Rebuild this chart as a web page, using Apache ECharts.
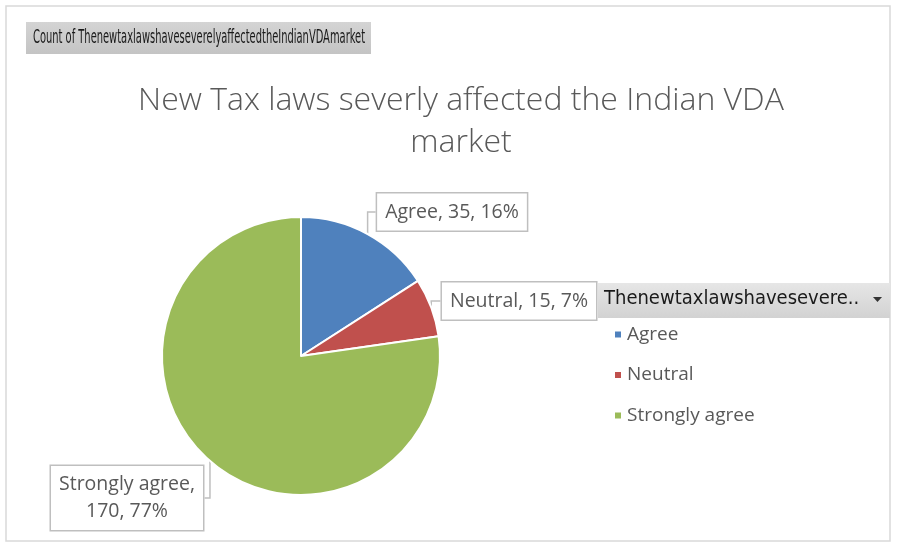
<!DOCTYPE html>
<html>
<head>
<meta charset="utf-8">
<script src="https://cdn.jsdelivr.net/npm/echarts@6/dist/echarts.min.js"></script>
<style>
html,body{margin:0;padding:0;background:#fff;}
#main{width:898px;height:548px;}
</style>
</head>
<body>
<div id="main"></div>
<script>
const categories = ['Agree', 'Neutral', 'Strongly agree'];
const counts = [35, 15, 170];
const colors = ['#4F81BD', '#C0504D', '#9BBB59'];
const chartTitle = 'New Tax laws severly affected the Indian VDA\nmarket';
const fieldHeader = 'Count of Thenewtaxlawshaveseverelyaffectedthe' + 'IndianVDAmarket';
const legendHeader = 'Thenewtaxlawshavesevere..';

const labelPos = {
  'Agree': [452, 212],
  'Neutral': [519, 301],
  'Strongly agree': [127, 498]
};

const chart = echarts.init(document.getElementById('main'));
const font = '"Open Sans", "Noto Sans", sans-serif';

chart.setOption({
  backgroundColor: '#ffffff',
  animation: false,
  color: colors,
  title: {
    text: chartTitle,
    left: 456,
    top: 75,
    textAlign: 'center',
    textStyle: {
      fontFamily: font,
      fontWeight: 300,
      fontSize: 32,
      color: '#595959',
      lineHeight: 42
    }
  },
  legend: {
    orient: 'vertical',
    left: 608,
    top: 320,
    icon: 'rect',
    itemWidth: 8,
    itemHeight: 8,
    itemGap: 21.5,
    data: categories,
    textStyle: { fontFamily: font, fontSize: 19, color: '#595959' }
  },
  graphic: [
    {
      type: 'rect', z: -1,
      shape: { x: 6, y: 6, width: 884, height: 535 },
      style: { fill: 'none', stroke: '#d9d9d9', lineWidth: 1.5 }
    },
    {
      type: 'rect',
      shape: { x: 26, y: 22, width: 345, height: 32 },
      style: {
        fill: new echarts.graphic.LinearGradient(0, 0, 0, 1, [
          { offset: 0, color: '#d4d4d4' }, { offset: 1, color: '#c4c4c4' }
        ])
      }
    },
    {
      type: 'text',
      x: 33, y: 29,
      scaleX: 0.58,
      style: {
        text: fieldHeader,
        fontFamily: '"DejaVu Sans Condensed", "DejaVu Sans", sans-serif',
        fontSize: 19,
        fill: '#1a1a1a'
      }
    },
    {
      type: 'rect',
      shape: { x: 598, y: 283, width: 292, height: 35 },
      style: {
        fill: new echarts.graphic.LinearGradient(0, 0, 0, 1, [
          { offset: 0, color: '#e6e6e6' }, { offset: 1, color: '#d2d2d2' }
        ])
      }
    },
    {
      type: 'text',
      left: 604, top: 289,
      style: {
        text: legendHeader,
        fontFamily: '"DejaVu Sans Condensed", "DejaVu Sans", sans-serif',
        fontSize: 20,
        fill: '#1a1a1a'
      }
    },
    {
      type: 'polygon',
      shape: { points: [[873, 297], [882, 297], [877.5, 302]] },
      style: { fill: '#333333' }
    }
  ],
  series: [{
    type: 'pie',
    center: [301, 356],
    radius: 139,
    startAngle: 90,
    clockwise: true,
    percentPrecision: 0,
    itemStyle: { borderColor: '#ffffff', borderWidth: 2 },
    label: {
      show: true,
      position: 'outside',
      formatter: function (p) {
        if (p.name === 'Strongly agree') {
          return p.name + ',\n' + p.value + ', ' + Math.round(p.percent) + '%';
        }
        return p.name + ', ' + p.value + ', ' + Math.round(p.percent) + '%';
      },
      fontFamily: font,
      fontSize: 19.5,
      lineHeight: 27,
      color: '#595959',
      backgroundColor: '#ffffff',
      borderColor: '#bfbfbf',
      borderWidth: 1.5,
      padding: [5, 8, 5, 8],
      align: 'center'
    },
    labelLine: {
      show: true,
      length: 10,
      length2: 10,
      lineStyle: { color: '#bfbfbf', width: 1.5 }
    },
    labelLayout: function (params) {
      const name = categories[params.dataIndex];
      const pos = labelPos[name];
      return { x: pos[0], y: pos[1], align: 'center', verticalAlign: 'middle' };
    },
    emphasis: { disabled: true },
    data: categories.map(function (c, i) { return { name: c, value: counts[i] }; })
  }]
});
</script>
</body>
</html>
